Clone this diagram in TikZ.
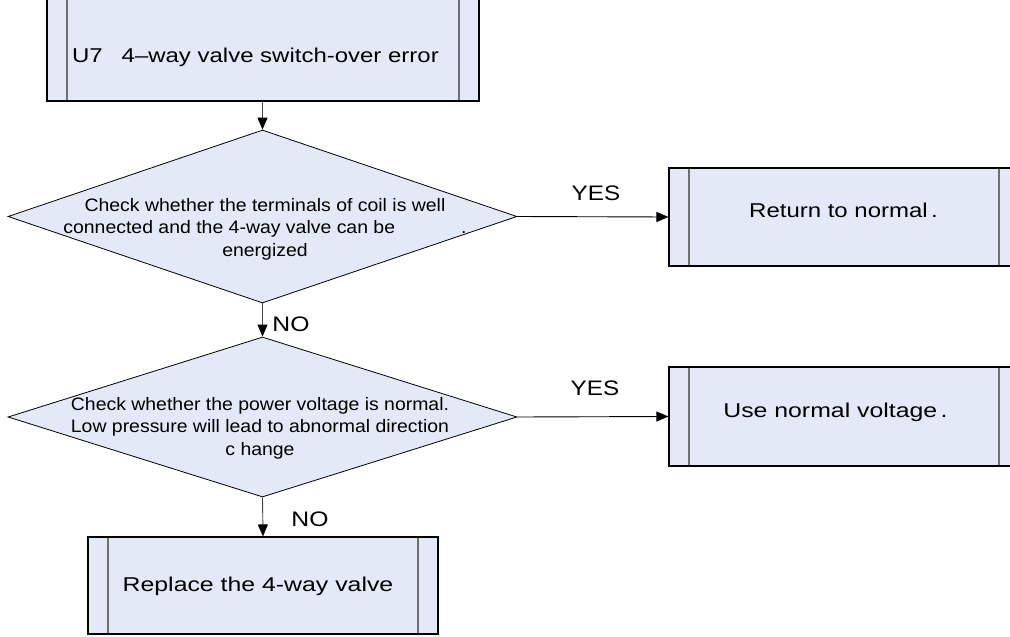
\documentclass[tikz,border=0pt]{standalone}
\usepackage{fontspec}
\setmainfont{Liberation Sans}[FakeStretch=1.08]
\usetikzlibrary{shapes.geometric,arrows.meta}
\definecolor{boxfill}{RGB}{227,233,246}
\definecolor{innergrey}{RGB}{110,110,110}
\definecolor{linegrey}{RGB}{70,70,70}
\newcommand{\wide}[2]{\scalebox{#1}[1]{#2}}
\tikzset{
  proc/.style={draw=black, fill=boxfill, line width=1.1pt, inner sep=0pt,
    path picture={
      \draw[innergrey, line width=1.4pt]
        ([xshift=20pt]path picture bounding box.north west) -- ([xshift=20pt]path picture bounding box.south west)
        ([xshift=-20pt]path picture bounding box.north east) -- ([xshift=-20pt]path picture bounding box.south east);
    }},
  decision/.style={diamond, draw=black, fill=boxfill, line width=0.8pt, inner sep=0pt,
    minimum width=509pt, minimum height=#1, shape aspect=2.9},
  txt/.style={font=\fontsize{18}{22.5}\selectfont, align=center, inner sep=0pt},
  boxtxt/.style={font=\fontsize{20}{24}\selectfont, inner sep=0pt},
  lbl/.style={font=\fontsize{21}{24}\selectfont, inner sep=0pt},
  conn/.style={linegrey, line width=0.9pt, -{Triangle[length=12pt,width=10pt,color=black,fill=black]}},
}
\begin{document}
\begin{tikzpicture}[x=1pt,y=-1pt]
\useasboundingbox (0,0) rectangle (1010,637);
\clip (0,0) rectangle (1010,637);
% boxes
\node[proc, minimum width=432pt, minimum height=121pt] (start) at (263,40.5) {};
\node[boxtxt] (starttxt) at (255.5,57) {\wide{1.11}{U7\hspace{17pt}4--way valve switch-over error}};
\node[decision=173pt] (d1) at (262.5,216.5) {};
\node[txt] (d1txt) at (265,229) {Check whether the terminals of coil is well\\connected and the 4-way valve can be\hspace{66pt}.\\energized};
\node[proc, minimum width=350pt, minimum height=98pt] (b1) at (844,217) {};
\node[boxtxt] (b1txt) at (843.5,210) {\wide{1.11}{Return to normal\hspace{3pt}.}};
\node[decision=160pt] (d2) at (262.5,417) {};
\node[txt] (d2txt) at (260,428) {Check whether the power voltage is normal.\\Low pressure will lead to abnormal direction\\c hange};
\node[proc, minimum width=350pt, minimum height=99pt] (b2) at (844,416.5) {};
\node[boxtxt] (b2txt) at (835.5,412) {\wide{1.15}{Use normal voltage\hspace{3pt}.}};
\node[proc, minimum width=350pt, minimum height=97pt] (b3) at (263,585.5) {};
\node[boxtxt] (b3txt) at (258,586) {\wide{1.15}{Replace the 4-way valve}};
% connectors
\draw[conn] (start.south -| d1.north) -- (d1.north);
\draw[conn] (d1.south) -- (d2.north);
\draw[conn] (d2.south) -- (b3.north);
\draw[conn, black] (d1.east) -- (b1.west);
\draw[conn, black] (d2.east) -- (b2.west);
% labels
\node[lbl] (yes1) at (596,193) {\wide{1.07}{YES}};
\node[lbl] (no1) at (291,324) {\wide{1.09}{NO}};
\node[lbl] (yes2) at (595,388) {\wide{1.07}{YES}};
\node[lbl] (no2) at (310,519) {\wide{1.09}{NO}};
\end{tikzpicture}
\end{document}
